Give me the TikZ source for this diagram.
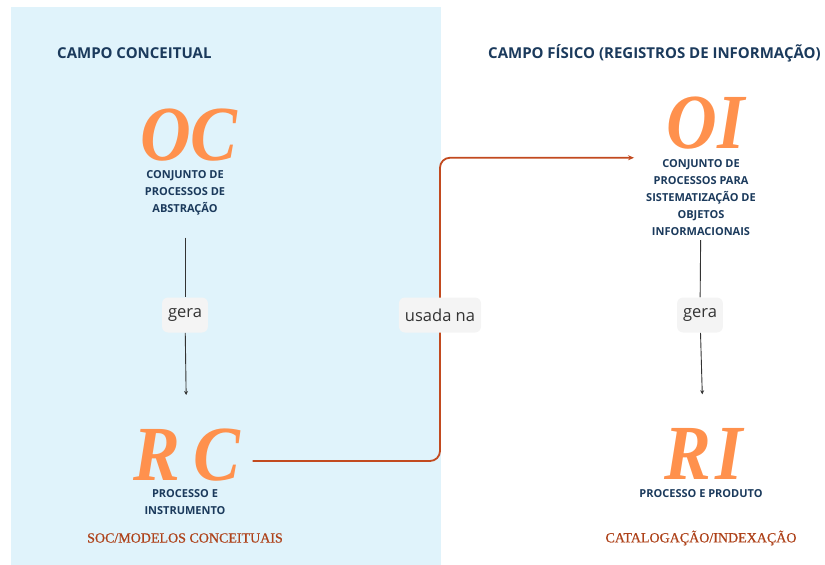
\documentclass[tikz,border=0pt]{standalone}
\usepackage{fontspec}
\setmainfont{Open Sans}
\newfontfamily\titlefont[FakeBold=0.7]{Liberation Serif}
\newfontfamily\letterfont[FakeStretch=0.9]{Liberation Serif}
\usetikzlibrary{arrows.meta,backgrounds}
\definecolor{panelblue}{HTML}{E0F3FB}
\definecolor{navy}{HTML}{1B3A5C}
\definecolor{letterorange}{HTML}{FF914D}
\definecolor{rust}{HTML}{AE421A}
\definecolor{linkred}{HTML}{C24A1F}
\definecolor{boxgray}{HTML}{F4F4F4}
\tikzset{
	heading/.style={text=navy,font=\bfseries\fontsize{15}{18}\selectfont,anchor=west,inner sep=0},
	bigletters/.style={text=letterorange,font=\letterfont\bfseries\itshape\fontsize{78}{78}\selectfont,inner sep=0,text depth=0pt},
	caption/.style={text=navy,font=\bfseries\fontsize{11}{17}\selectfont,align=center,inner sep=0},
	fieldname/.style={text=rust,font=\titlefont\fontsize{14}{16}\selectfont,inner sep=0},
	linklabel/.style={fill=boxgray,rounded corners=6pt,text=black!80,font=\fontsize{16.5}{18}\selectfont,minimum height=35pt,inner xsep=6pt},
	genline/.style={draw=black!80,line width=0.9pt},
	genarrow/.style={genline,-{Stealth[length=4pt,width=4pt]}},
	useline/.style={draw=linkred,line width=1.8pt,rounded corners=10pt,-{Stealth[length=6pt,width=5pt]}},
}
\begin{document}
\begin{tikzpicture}[x=1pt,y=-1pt]
	\useasboundingbox (0,0) rectangle (825,565);
	% Headings
	\node [heading] (conceitual) at (57,53) {CAMPO CONCEITUAL};
	\node [heading] (fisico) at (488,53) {CAMPO FÍSICO (REGISTROS DE INFORMAÇÃO)};
	% Left column
	\node [bigletters] (oc) at (189,135) {OC};
	\node [caption] (ocdesc) at (185,193) {CONJUNTO DE\\PROCESSOS DE\\ABSTRAÇÃO};
	\node [linklabel] (gera1) at (185,315) {gera};
	\node [bigletters] (rc) at (187,455) {R\,C};
	\node [caption] (rcdesc) at (185,502) {PROCESSO E\\INSTRUMENTO};
	\node [fieldname] (soc) at (185,538) {SOC/MODELOS CONCEITUAIS};
	% Right column
	\node [bigletters] (oi) at (706,123) {OI};
	\node [caption] (oidesc) at (701,198) {CONJUNTO DE\\PROCESSOS PARA\\SISTEMATIZAÇÃO DE\\OBJETOS\\INFORMACIONAIS};
	\node [linklabel] (gera2) at (700,315) {gera};
	\node [bigletters] (ri) at (704,454) {R\kern4pt I};
	\node [caption] (ridesc) at (701,494) {PROCESSO E PRODUTO};
	\node [fieldname] (cat) at (701,538) {CATALOGAÇÃO/INDEXAÇÃO};
	% Link between fields
	\node [linklabel] (usada) at (440,315) {usada na};
	% Panel and connectors
	\begin{scope}[on background layer]
		\fill [panelblue] (11,7) rectangle (441,565);
		\draw [genline, shorten <=22pt] (ocdesc) -- (gera1);
		\draw [genarrow, shorten >=34pt] (gera1) -- (rc);
		\draw [genline, shorten <=4pt] (oidesc) -- (gera2);
		\draw [genarrow, shorten >=34pt] (gera2) -- (ri);
		\draw [useline] ([xshift=12pt,yshift=-6pt]rc.east) -| (usada.center) |- ([xshift=-12pt,yshift=2pt]oidesc.north west);
	\end{scope}
\end{tikzpicture}
\end{document}
